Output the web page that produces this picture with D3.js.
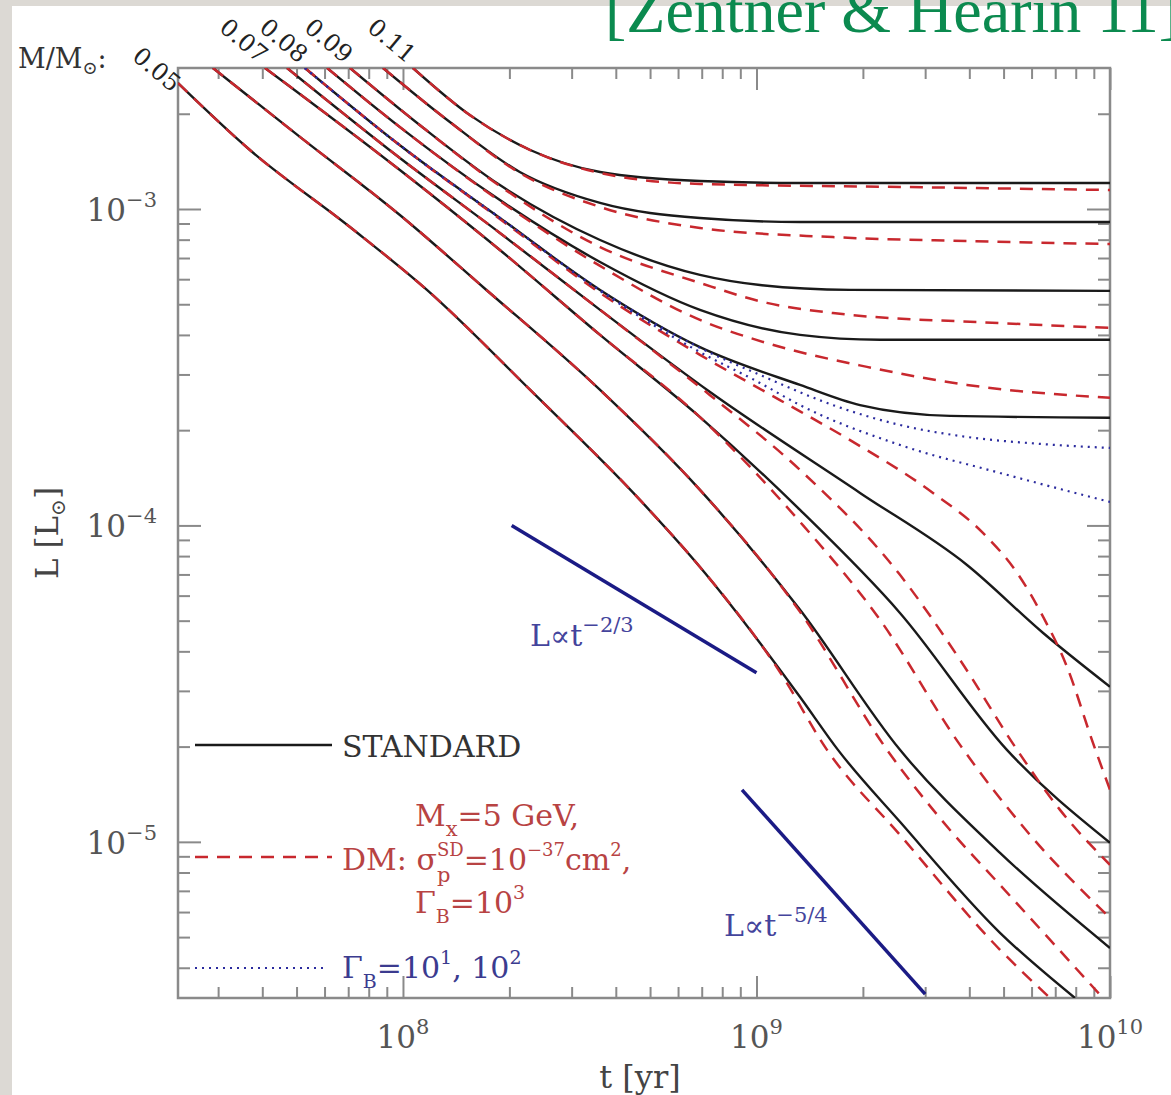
<!DOCTYPE html>
<html>
<head>
<meta charset="utf-8">
<script src="https://cdn.jsdelivr.net/npm/d3@7"></script>
<style>
body { margin: 0; background: #dcd9d4; }
svg { display: block; }
text { font-family: "DejaVu Serif", "Liberation Serif", serif; }
text.header { font-family: "Liberation Serif", serif; }
</style>
</head>
<body>
<svg id="chart" width="1171" height="1095"></svg>
<script>
// ---- data: [t (yr), L (Lsun)] ----
const massLabels = ['0.05', '0.07', '0.08', '0.09', '0.11'];
const massLabelAt = [[2.31e7, 2.26e-3], [4.07e7, 2.79e-3], [5.28e7, 2.79e-3], [7.08e7, 2.79e-3], [1.067e8, 2.79e-3]];

const std005 = [[2.31e7,2.50e-3],[3.69e7,1.536e-3],[7.08e7,8.77e-4],[1.169e8,5.55e-4],[2.29e8,2.68e-4],[4.68e8,1.204e-4],[6.92e8,7.39e-5],[1.328e9,2.87e-5],[1.70e9,1.953e-5],[2.546e9,1.157e-5],[4.885e9,5.16e-6],[7.96e9,3.21e-6]];
const dm005  = [[2.31e7,2.50e-3],[3.69e7,1.536e-3],[7.08e7,8.77e-4],[1.169e8,5.55e-4],[2.29e8,2.68e-4],[4.68e8,1.204e-4],[6.92e8,7.39e-5],[1.165e9,3.44e-5],[1.583e9,1.953e-5],[2.546e9,1.052e-5],[4.885e9,4.56e-6],[6.77e9,3.21e-6]];
const std006 = [[2.90e7,2.79e-3],[5.11e7,1.69e-3],[9.8e7,9.57e-4],[1.684e8,5.67e-4],[3.61e8,2.68e-4],[6.92e8,1.295e-4],[1.328e9,5.41e-5],[2.546e9,1.953e-5],[4.885e9,9.23e-6],[1e10,4.62e-6]];
const dm006  = [[2.90e7,2.79e-3],[5.11e7,1.69e-3],[9.8e7,9.57e-4],[1.684e8,5.67e-4],[3.61e8,2.68e-4],[6.92e8,1.295e-4],[1.328e9,5.33e-5],[2.34e9,1.953e-5],[3.527e9,1.09e-5],[4.885e9,7.31e-6],[6.77e9,4.90e-6],[9.55e9,3.21e-6]];
const std007 = [[4.07e7,2.79e-3],[9.8e7,1.328e-3],[1.88e8,7.42e-4],[3.61e8,4.00e-4],[6.92e8,2.20e-4],[1.328e9,1.119e-4],[2.546e9,5.29e-5],[5.11e9,1.953e-5],[1e10,9.93e-6]];
const dm007  = [[4.07e7,2.79e-3],[9.8e7,1.328e-3],[1.88e8,7.42e-4],[3.61e8,4.00e-4],[6.92e8,2.20e-4],[1.328e9,1.026e-4],[2.236e9,5.03e-5],[3.765e9,2.025e-5],[5.94e9,1.052e-5],[1e10,5.75e-6]];
const std0075 = [[4.70e7,2.79e-3],[9.8e7,1.449e-3],[1.88e8,8.40e-4],[3.61e8,4.80e-4],[7.39e8,2.64e-4],[1.963e9,1.267e-4],[3.94e9,7.50e-5],[6.47e9,4.57e-5],[1e10,3.09e-5]];
const dm0075  = [[4.70e7,2.79e-3],[9.8e7,1.449e-3],[1.88e8,8.40e-4],[3.61e8,4.80e-4],[7.39e8,2.58e-4],[1.328e9,1.497e-4],[2.546e9,6.98e-5],[3.765e9,3.76e-5],[5.46e9,1.953e-5],[7.22e9,1.262e-5],[1e10,8.46e-6]];
const std008 = [[5.28e7,2.79e-3],[9.8e7,1.59e-3],[1.88e8,9.37e-4],[3.61e8,5.55e-4],[6.92e8,3.66e-4],[1.328e9,2.78e-4],[1.963e9,2.40e-4],[3.527e9,2.22e-4],[1e10,2.19e-4]];
const dm008  = [[5.28e7,2.79e-3],[9.8e7,1.59e-3],[1.88e8,9.30e-4],[3.61e8,5.43e-4],[6.92e8,3.46e-4],[1.165e9,2.49e-4],[1.84e9,1.86e-4],[3.157e9,1.267e-4],[4.37e9,9.47e-5],[5.46e9,7.08e-5],[6.47e9,5.14e-5],[7.56e9,3.57e-5],[8.95e9,2.055e-5],[1e10,1.46e-5]];
const gamma100 = [[5.28e7,2.79e-3],[9.8e7,1.59e-3],[1.88e8,9.37e-4],[3.61e8,5.55e-4],[6.92e8,3.64e-4],[1.023e9,2.99e-4],[1.646e9,2.40e-4],[2.546e9,2.077e-4],[3.94e9,1.904e-4],[6.34e9,1.81e-4],[1e10,1.757e-4]];
const gamma10  = [[5.28e7,2.79e-3],[9.8e7,1.59e-3],[1.88e8,9.37e-4],[3.61e8,5.51e-4],[6.92e8,3.53e-4],[1.023e9,2.82e-4],[1.328e9,2.40e-4],[2.546e9,1.796e-4],[4.885e9,1.465e-4],[1e10,1.186e-4]];
const std0085 = [[6.10e7,2.79e-3],[9.8e7,1.815e-3],[1.88e8,1.067e-3],[3.61e8,6.80e-4],[6.92e8,4.80e-4],[1.328e9,4.00e-4],[2.236e9,3.86e-4],[1e10,3.86e-4]];
const dm0085  = [[6.10e7,2.79e-3],[9.8e7,1.815e-3],[1.88e8,1.06e-3],[3.61e8,6.61e-4],[6.92e8,4.46e-4],[1.07e9,3.77e-4],[2.054e9,3.17e-4],[3.94e9,2.78e-4],[1e10,2.53e-4]];
const std009 = [[7.08e7,2.79e-3],[1.117e8,1.84e-3],[1.88e8,1.19e-3],[3.61e8,7.98e-4],[6.92e8,6.19e-4],[1.023e9,5.75e-4],[1.84e9,5.55e-4],[1e10,5.51e-4]];
const dm009  = [[7.08e7,2.79e-3],[1.117e8,1.84e-3],[1.88e8,1.182e-3],[3.61e8,7.58e-4],[6.92e8,5.84e-4],[1.07e9,5.05e-4],[1.646e9,4.69e-4],[4.885e9,4.36e-4],[1e10,4.21e-4]];
const std010 = [[8.78e7,2.79e-3],[1.36e8,1.88e-3],[2.14e8,1.309e-3],[3.61e8,1.045e-3],[6.92e8,9.37e-4],[1.328e9,9.10e-4],[1e10,9.10e-4]];
const dm010  = [[8.78e7,2.79e-3],[1.36e8,1.88e-3],[2.14e8,1.30e-3],[3.61e8,1.015e-3],[6.92e8,8.71e-4],[1.646e9,8.15e-4],[3.94e9,7.92e-4],[1e10,7.75e-4]];
const std011 = [[1.067e8,2.79e-3],[1.547e8,1.98e-3],[2.29e8,1.536e-3],[3.61e8,1.309e-3],[6.92e8,1.226e-3],[1.328e9,1.208e-3],[1e10,1.208e-3]];
const dm011  = [[1.067e8,2.79e-3],[1.547e8,1.98e-3],[2.29e8,1.536e-3],[3.61e8,1.30e-3],[6.92e8,1.20e-3],[2.546e9,1.174e-3],[1e10,1.148e-3]];

const slopeTwoThirds = [[2.03e8, 1.0e-4], [1e9, 3.42e-5]];
const slopeFiveFourths = [[9.1e8, 1.46e-5], [3.0e9, 3.3e-6]];

const xMajor = [1e8, 1e9, 1e10];
const xMinor = [3e7,4e7,5e7,6e7,7e7,8e7,9e7,2e8,3e8,4e8,5e8,6e8,7e8,8e8,9e8,2e9,3e9,4e9,5e9,6e9,7e9,8e9,9e9];
const yMajor = [1e-5, 1e-4, 1e-3];
const yMinor = [4e-6,5e-6,6e-6,7e-6,8e-6,9e-6,2e-5,3e-5,4e-5,5e-5,6e-5,7e-5,8e-5,9e-5,2e-4,3e-4,4e-4,5e-4,6e-4,7e-4,8e-4,9e-4,2e-3];

const standardCurves = [std005, std006, std007, std0075, std008, std0085, std009, std010, std011];
const dmCurves = [dm005, dm006, dm007, dm0075, dm008, dm0085, dm009, dm010, dm011];
const gammaCurves = [gamma100, gamma10];

// ---- layout ----
const svg = d3.select('#chart');
const frame = {left: 178, right: 1110, top: 68, bottom: 998};

const x = d3.scaleLog().domain([2.31e7, 1e10]).range([frame.left, frame.right]);
const y = d3.scaleLog().domain([3.21e-6, 2.79e-3]).range([frame.bottom, frame.top]);

// white panel over the grey page
svg.append('rect').attr('x', 12).attr('y', 6).attr('width', 1171).attr('height', 1095).attr('fill', '#fff');

svg.append('text')
    .attr('class', 'header')
    .attr('x', 605).attr('y', 32)
    .attr('font-size', 64)
    .attr('fill', '#0b8a4f')
    .text('[Zentner & Hearin 11]');

svg.append('clipPath').attr('id', 'plotclip')
    .append('rect')
    .attr('x', frame.left).attr('y', frame.top)
    .attr('width', frame.right - frame.left).attr('height', frame.bottom - frame.top);

// Ticks (inward, on all four sides)
const tickColor = '#8a8a8a';
function addAxis(axis, tx, ty) {
    const g = svg.append('g').attr('transform', `translate(${tx},${ty})`).call(axis);
    g.select('.domain').remove();
    g.selectAll('line').attr('stroke', tickColor).attr('stroke-width', 2);
    g.selectAll('text').remove();
}
addAxis(d3.axisBottom(x).tickValues(xMinor).tickSize(-11), 0, frame.bottom);
addAxis(d3.axisBottom(x).tickValues(xMajor).tickSize(-22), 0, frame.bottom);
addAxis(d3.axisTop(x).tickValues(xMinor).tickSize(-11), 0, frame.top);
addAxis(d3.axisTop(x).tickValues(xMajor).tickSize(-22), 0, frame.top);
addAxis(d3.axisLeft(y).tickValues(yMinor).tickSize(-12), frame.left, 0);
addAxis(d3.axisLeft(y).tickValues(yMajor).tickSize(-23), frame.left, 0);
addAxis(d3.axisRight(y).tickValues(yMinor).tickSize(-12), frame.right, 0);
addAxis(d3.axisRight(y).tickValues(yMajor).tickSize(-23), frame.right, 0);

svg.append('rect')
    .attr('x', frame.left).attr('y', frame.top)
    .attr('width', frame.right - frame.left).attr('height', frame.bottom - frame.top)
    .attr('fill', 'none').attr('stroke', tickColor).attr('stroke-width', 2.5);

// Tick labels 10^n
const labelColor = '#555';
svg.selectAll('.xlab').data(xMajor).enter().append('text')
    .attr('class', 'xlab')
    .attr('x', d => x(d)).attr('y', 1048)
    .attr('text-anchor', 'middle')
    .attr('font-size', 31).attr('fill', labelColor)
    .each(function(d) {
        const t = d3.select(this);
        t.append('tspan').text('10');
        t.append('tspan').attr('dy', -14).attr('font-size', 21).text(Math.round(Math.log10(d)));
    });

svg.selectAll('.ylab').data(yMajor).enter().append('text')
    .attr('class', 'ylab')
    .attr('x', 157).attr('y', d => y(d) + 12)
    .attr('text-anchor', 'end')
    .attr('font-size', 31).attr('fill', labelColor)
    .each(function(d) {
        const t = d3.select(this);
        t.append('tspan').text('10');
        t.append('tspan').attr('dy', -14).attr('font-size', 21).text('\u2212' + Math.round(-Math.log10(d)));
    });

// Curves
const line = d3.line()
    .x(d => x(d[0]))
    .y(d => y(d[1]))
    .curve(d3.curveMonotoneX);

const plot = svg.append('g').attr('clip-path', 'url(#plotclip)');

plot.selectAll('.std').data(standardCurves).enter().append('path')
    .attr('class', 'std')
    .attr('d', line)
    .attr('fill', 'none').attr('stroke', '#1a1a1a').attr('stroke-width', 2.4);

plot.selectAll('.dm').data(dmCurves).enter().append('path')
    .attr('class', 'dm')
    .attr('d', line)
    .attr('fill', 'none').attr('stroke', '#c8282e').attr('stroke-width', 2.5)
    .attr('stroke-dasharray', '13,9');

plot.selectAll('.gam').data(gammaCurves).enter().append('path')
    .attr('class', 'gam')
    .attr('d', line)
    .attr('fill', 'none').attr('stroke', '#2b2b9e').attr('stroke-width', 2.2)
    .attr('stroke-dasharray', '2,5');

plot.selectAll('.slope').data([slopeTwoThirds, slopeFiveFourths]).enter().append('path')
    .attr('class', 'slope')
    .attr('d', d3.line().x(d => x(d[0])).y(d => y(d[1])))
    .attr('fill', 'none').attr('stroke', '#1b1b85').attr('stroke-width', 3.5);

// Rich text helper: parts laid out left to right, "under" parts stack below the previous one
function rich(x0, y0, parts, color) {
    let cx = x0, prevX = x0, prevW = 0;
    parts.forEach(p => {
        const px = p.under ? prevX : cx;
        const t = svg.append('text')
            .attr('x', px).attr('y', y0 + (p.dy || 0))
            .attr('font-size', p.size).attr('fill', color)
            .text(p.t);
        const w = t.node().getComputedTextLength();
        if (p.under) {
            cx = prevX + Math.max(prevW, w);
        } else {
            prevX = cx; prevW = w; cx += w;
        }
    });
}

// Power-law annotations
rich(530, 646, [{t: 'L\u221Dt', size: 30}, {t: '\u22122/3', size: 21, dy: -14}], '#44449c');
rich(724, 936, [{t: 'L\u221Dt', size: 30}, {t: '\u22125/4', size: 21, dy: -14}], '#44449c');

// Legend
const legLines = [
    {y: 745, x1: 195, x2: 332, stroke: '#1a1a1a', dash: null, w: 2.4},
    {y: 857, x1: 195, x2: 332, stroke: '#c8282e', dash: '13,9', w: 2.5},
    {y: 968, x1: 195, x2: 328, stroke: '#2b2b9e', dash: '2,5', w: 2.2}
];
svg.selectAll('.leg').data(legLines).enter().append('line')
    .attr('class', 'leg')
    .attr('x1', d => d.x1).attr('x2', d => d.x2)
    .attr('y1', d => d.y).attr('y2', d => d.y)
    .attr('stroke', d => d.stroke).attr('stroke-width', d => d.w)
    .attr('stroke-dasharray', d => d.dash);

const red = '#b84343', blue = '#3b3b8f';
rich(342, 757, [{t: 'STANDARD', size: 30}], '#333');
rich(415, 826, [{t: 'M', size: 30}, {t: 'x', size: 21, dy: 10}, {t: '=5 GeV,', size: 30}], red);
rich(342, 870, [{t: 'DM: \u03C3', size: 30}, {t: 'SD', size: 18, dy: -14}, {t: 'p', size: 21, dy: 12, under: true},
    {t: '=10', size: 30}, {t: '\u221237', size: 18, dy: -14}, {t: 'cm', size: 30}, {t: '2', size: 18, dy: -14}, {t: ',', size: 30}], red);
rich(415, 913, [{t: '\u0393', size: 30}, {t: 'B', size: 19, dy: 10}, {t: '=10', size: 30}, {t: '3', size: 19, dy: -14}], red);
rich(342, 978, [{t: '\u0393', size: 30}, {t: 'B', size: 19, dy: 10}, {t: '=10', size: 30}, {t: '1', size: 19, dy: -14},
    {t: ', 10', size: 30}, {t: '2', size: 19, dy: -14}], blue);

// Mass labels along the top
rich(18, 68, [{t: 'M/M', size: 27}, {t: '\u2299', size: 18, dy: 6}, {t: ':', size: 27}], '#333');
svg.selectAll('.mlab').data(massLabels).enter().append('text')
    .attr('class', 'mlab')
    .attr('transform', (d, i) => {
        const p = massLabelAt[i];
        return `translate(${x(p[0]) - 6},${y(p[1]) - 4}) rotate(40)`;
    })
    .attr('text-anchor', 'end')
    .attr('font-size', 24).attr('fill', '#222')
    .text(d => d);

// Axis titles
svg.append('text')
    .attr('x', 640).attr('y', 1088)
    .attr('text-anchor', 'middle')
    .attr('font-size', 32).attr('fill', '#444')
    .text('t  [yr]');

const ylab = svg.append('text')
    .attr('transform', 'translate(58,533) rotate(-90)')
    .attr('text-anchor', 'middle')
    .attr('font-size', 31).attr('fill', '#444');
ylab.append('tspan').text('L  [L');
ylab.append('tspan').attr('dy', 7).attr('font-size', 20).text('\u2299');
ylab.append('tspan').attr('dy', -7).text(']');
</script>
</body>
</html>
